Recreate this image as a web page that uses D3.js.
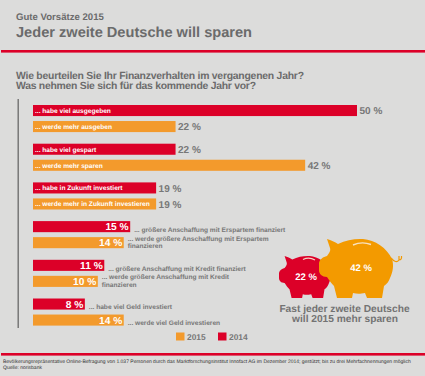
<!DOCTYPE html>
<html lang="de">
<head>
<meta charset="utf-8">
<title>Gute Vorsätze 2015</title>
<script src="https://cdn.jsdelivr.net/npm/d3@7"></script>
<style>
  html, body { margin: 0; padding: 0; background: #dcdcdb; }
  text { font-family: "Liberation Sans", Arial, sans-serif; text-rendering: geometricPrecision; }
</style>
</head>
<body>
<div id="chart"></div>
<script>
const groups = [0, 1, 2, 3, 4, 5]
const years = ["2014", "2015"]
const legendYears = ["2015", "2014"]
const values2014 = [50, 22, 19, 15, 11, 8]
const values2015 = [22, 42, 19, 14, 10, 14]
const labels2014 = [
  ["... habe viel ausgegeben"],
  ["... habe viel gespart"],
  ["... habe in Zukunft investiert"],
  ["... größere Anschaffung mit Erspartem finanziert"],
  ["... größere Anschaffung mit Kredit finanziert"],
  ["... habe viel Geld investiert"]
]
const labels2015 = [
  ["... werde mehr ausgeben"],
  ["... werde mehr sparen"],
  ["... werde mehr in Zukunft investieren"],
  ["... werde größere Anschaffung mit Erspartem", "finanzieren"],
  ["... werde größere Anschaffung mit Kredit", "finanzieren"],
  ["... werde viel Geld investieren"]
]
const footnotes = [
  "Bevölkerungsrepräsentative Online-Befragung von 1.037 Personen durch das Marktforschungsinstitut Innofact AG im Dezember 2014; gestützt; bis zu drei Mehrfachnennungen möglich",
  "Quelle: norisbank"
]

const w = 425
const h = 376
const red = "#dc0028"
const orange = "#f39a2c"
const grey = "#6b6b6b"

const svg = d3.select("#chart").append("svg")
  .attr("width", w)
  .attr("height", h)
  .style("display", "block")

svg.append("rect").attr("width", w).attr("height", h).attr("fill", "#dcdcdb")

// header
svg.append("text").attr("x", 16).attr("y", 20).attr("font-size", 9.6).attr("font-weight", "bold")
  .attr("fill", grey).text("Gute Vorsätze 2015")
svg.append("text").attr("x", 16).attr("y", 37).attr("font-size", 14.6).attr("font-weight", "bold")
  .attr("fill", grey).attr("textLength", 236).text("Jeder zweite Deutsche will sparen")
svg.append("rect").attr("x", 1).attr("y", 50).attr("width", 424).attr("height", 2.6).attr("fill", red)
svg.append("rect").attr("x", 1).attr("y", 353).attr("width", 424).attr("height", 2.6).attr("fill", red)

svg.append("text").attr("x", 16).attr("y", 79).attr("font-size", 10.4).attr("font-weight", "bold")
  .attr("fill", grey).attr("textLength", 288).text("Wie beurteilen Sie Ihr Finanzverhalten im vergangenen Jahr?")
svg.append("text").attr("x", 16).attr("y", 89).attr("font-size", 10.4).attr("font-weight", "bold")
  .attr("fill", grey).attr("textLength", 240).text("Was nehmen Sie sich für das kommende Jahr vor?")

// axis line on the left
svg.append("rect").attr("x", 17.5).attr("y", 99).attr("width", 1.4).attr("height", 229).attr("fill", "#707070")

const xScale = d3.scaleLinear().domain([0, 50]).range([33, 357])
const yGroup = d3.scaleBand().domain(groups).range([105, 325.6]).paddingInner(0.3).paddingOuter(0).align(0)
const yYear = d3.scaleBand().domain(years).range([0, yGroup.bandwidth()]).paddingInner(0.31)
const color = d3.scaleOrdinal().domain(years).range([red, orange])

const rows = []
groups.forEach(g => {
  rows.push({g: g, year: "2014", value: values2014[g], label: labels2014[g]})
  rows.push({g: g, year: "2015", value: values2015[g], label: labels2015[g]})
})

const row = svg.selectAll(".row").data(rows).join("g")
  .attr("class", "row")
  .attr("transform", d => "translate(0," + (yGroup(d.g) + yYear(d.year)) + ")")

row.append("rect")
  .attr("x", xScale(0))
  .attr("width", d => xScale(d.value) - xScale(0))
  .attr("height", yYear.bandwidth())
  .attr("fill", d => color(d.year))

// first three groups: label in the bar, value behind it
const mid = yYear.bandwidth() / 2
row.filter(d => d.g < 3).append("text")
  .attr("x", xScale(0) + 2)
  .attr("y", mid + 2.3)
  .attr("font-size", 6.6)
  .attr("font-weight", "bold")
  .attr("fill", "#fff")
  .text(d => d.label[0])
row.filter(d => d.g < 3).append("text")
  .attr("x", d => xScale(d.value) + 2.5)
  .attr("y", mid + 3.6)
  .attr("font-size", 10)
  .attr("font-weight", "bold")
  .attr("fill", "#777")
  .text(d => d.value + " %")

// other groups: value in the bar, label behind it
row.filter(d => d.g >= 3).append("text")
  .attr("x", d => xScale(d.value) - 1.5)
  .attr("y", mid + 3.8)
  .attr("font-size", 10.2)
  .attr("font-weight", "bold")
  .attr("text-anchor", "end")
  .attr("fill", "#fff")
  .text(d => d.value + " %")
row.filter(d => d.g >= 3).append("text")
  .attr("font-size", 6.6)
  .attr("font-weight", "bold")
  .attr("fill", "#777")
  .attr("y", d => d.label.length > 1 ? 0.5 : mid + 2.3)
  .selectAll("tspan").data(d => d.label.map((t, i) => ({t: t, i: i, value: d.value}))).join("tspan")
  .attr("x", d => xScale(d.value) + 4)
  .attr("dy", d => d.i == 0 ? 3 : 7.4)
  .text(d => d.t)

// piggy banks
const pig = "M8 0 C12 1 16 3 19 5 C27 1 36 -0.5 44 0 C56 1 68 9 73 20 C75 26 74 33 71 39 C70 42 68 45 65 47 L63 59 L48 59 L46 54 C41 55 38 55 34 54 L33 59 L18 59 L15 47 C12 44 10 41 8 38 C3 38 0 35 0 31 L0 24 C1 20 4 18 8 17 C10 14 12 12 11 9 Z"
svg.append("path").attr("d", pig).attr("fill", red)
  .attr("transform", "translate(279,256) scale(0.7,0.71)")
svg.append("path").attr("d", "M303 259.5 Q309 256.5 315 260").attr("fill", "none").attr("stroke", "#f4d4c4").attr("stroke-width", 1.2)
svg.append("path").attr("d", pig).attr("fill", "#f39a00")
  .attr("transform", "translate(319,239)")
svg.append("path").attr("d", "M391 258 Q396 264 399 260 L399 256 M399 260 Q402 260 401.5 256")
  .attr("fill", "none").attr("stroke", "#f39a00").attr("stroke-width", 1.2)
svg.append("path").attr("d", "M353 245 Q362 241 371 244.5").attr("fill", "none").attr("stroke", "#f8e2c0").attr("stroke-width", 1.4)
svg.append("text").attr("x", 306).attr("y", 280).attr("text-anchor", "middle").attr("font-size", 9.5)
  .attr("font-weight", "bold").attr("fill", "#fff").text("22 %")
svg.append("text").attr("x", 361).attr("y", 271).attr("text-anchor", "middle").attr("font-size", 9.5)
  .attr("font-weight", "bold").attr("fill", "#fff").text("42 %")
svg.append("text").attr("x", 344.5).attr("y", 312).attr("text-anchor", "middle").attr("font-size", 10.2)
  .attr("font-weight", "bold").attr("fill", "#737373").text("Fast jeder zweite Deutsche")
svg.append("text").attr("x", 345).attr("y", 322).attr("text-anchor", "middle").attr("font-size", 10.2)
  .attr("font-weight", "bold").attr("fill", "#737373").text("will 2015 mehr sparen")

// legend
const legendX = d3.scalePoint().domain(legendYears).range([176, 218])
const legend = svg.selectAll(".legend").data(legendYears).join("g")
  .attr("class", "legend")
  .attr("transform", d => "translate(" + legendX(d) + ",332.5)")
legend.append("rect").attr("width", 8.5).attr("height", 8).attr("fill", d => color(d))
legend.append("text").attr("x", 11).attr("y", 7.8).attr("font-size", 8.4).attr("font-weight", "bold")
  .attr("fill", "#777").text(d => d)

// footnote
svg.selectAll(".foot").data(footnotes).join("text")
  .attr("class", "foot")
  .attr("x", 3)
  .attr("y", (d, i) => 363 + i * 5.5)
  .attr("font-size", 5)
  .attr("fill", "#333")
  .text(d => d)
</script>
</body>
</html>
